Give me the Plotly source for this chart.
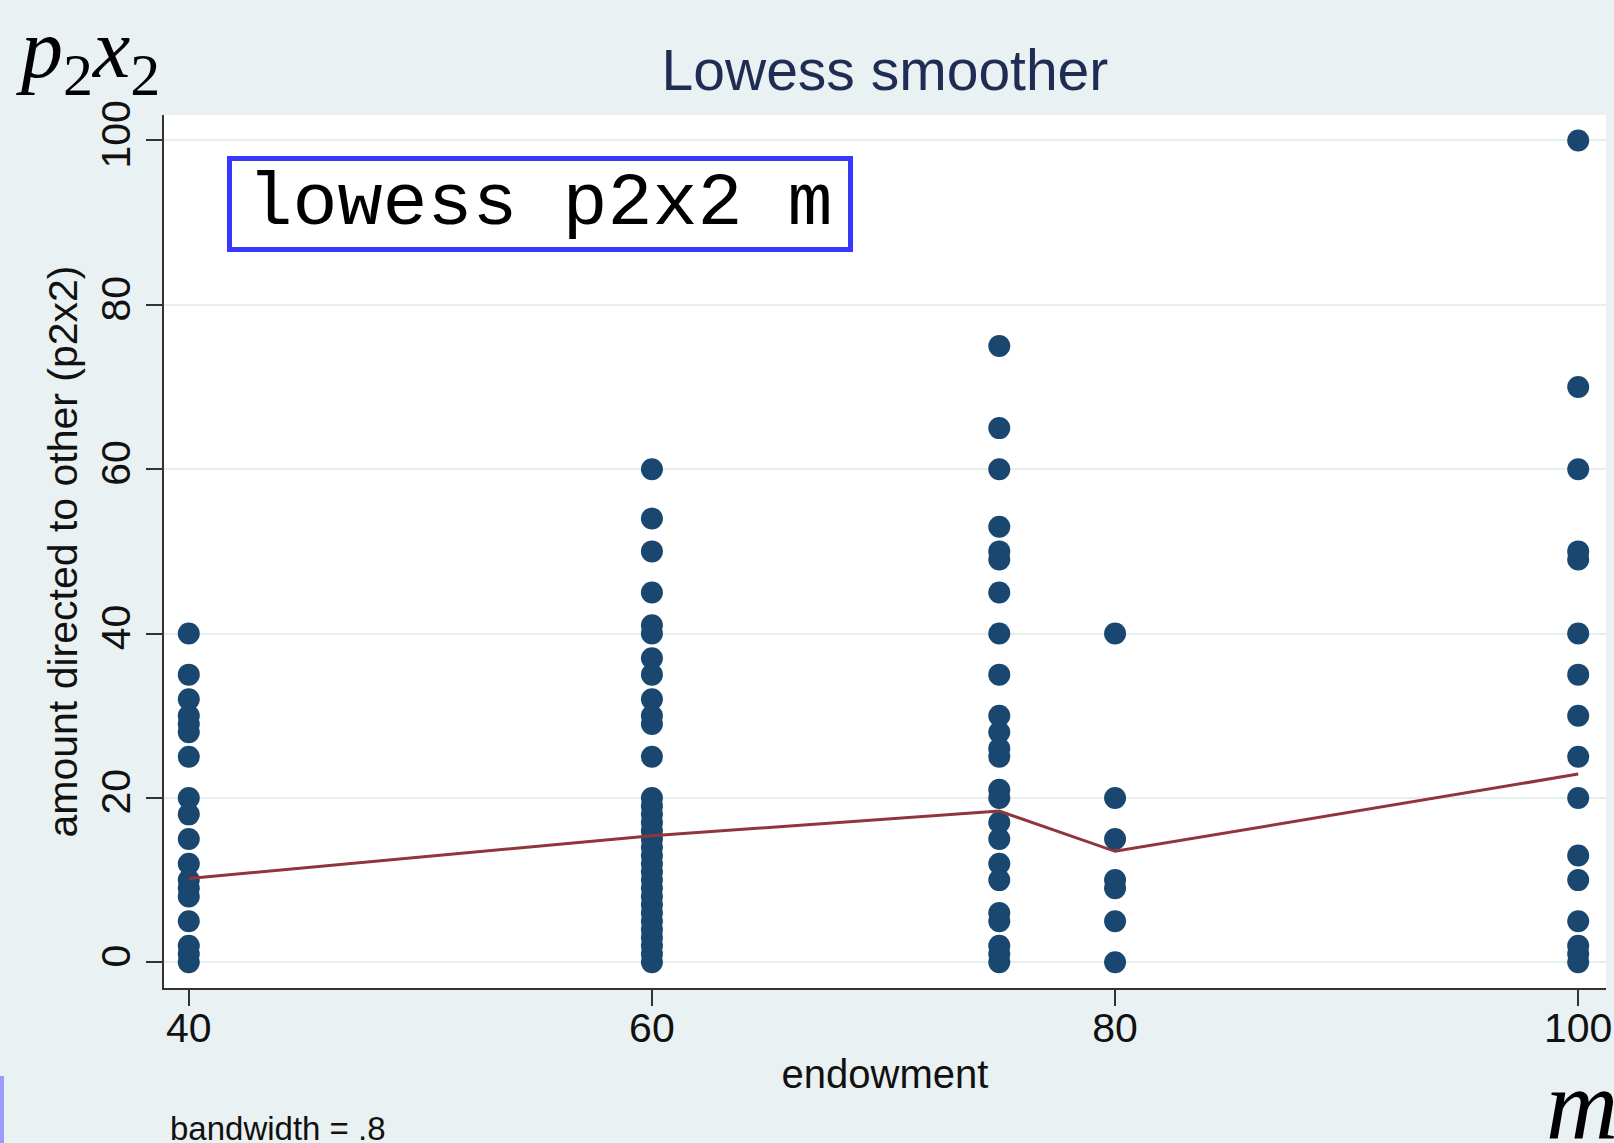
import plotly.graph_objects as go

# ---- data ----
endow_40 = [40, 35, 32, 30, 29, 28, 25, 20, 18, 15, 12, 10, 9, 8, 5, 2, 1, 0]
endow_60 = [60, 54, 50, 45, 41, 40, 37, 35, 32, 30, 29, 25, 20, 19, 18, 17, 16, 15,
            14, 13, 12, 11, 10, 9, 8, 7, 6, 5, 4, 3, 2, 1, 0]
endow_75 = [75, 65, 60, 53, 50, 49, 45, 40, 35, 30, 28, 26, 25, 21, 20, 17, 15, 12,
            10, 6, 5, 2, 1, 0]
endow_80 = [40, 20, 15, 10, 9, 5, 0]
endow_100 = [100, 70, 60, 50, 49, 40, 35, 30, 25, 20, 13, 10, 5, 2, 1, 0]

groups = {40: endow_40, 60: endow_60, 75: endow_75, 80: endow_80, 100: endow_100}

lowess_m = [40, 60, 75, 80, 100]
lowess_fit = [10.2, 15.4, 18.4, 13.5, 22.9]

x_ticks = [40, 60, 80, 100]
y_ticks = [0, 20, 40, 60, 80, 100]

title_text = "Lowess smoother"
x_title = "endowment"
y_title = "amount directed to other (p2x2)"
note_text = "bandwidth = .8"
cmd_text = "lowess p2x2 m"

xs, ys = [], []
for m, vals in groups.items():
    xs += [m] * len(vals)
    ys += vals

BG = "#e9f1f2"
NAVY = "#1a476f"
MAROON = "#90353b"
SANS = "Liberation Sans, Arial, Helvetica, sans-serif"
SERIF = "Liberation Serif, Times New Roman, serif"

fig = go.Figure()
fig.add_trace(go.Scatter(
    x=xs, y=ys, mode="markers",
    marker=dict(color=NAVY, size=22, line=dict(width=0)),
    showlegend=False, cliponaxis=False,
))
fig.add_trace(go.Scatter(
    x=lowess_m, y=lowess_fit, mode="lines",
    line=dict(color=MAROON, width=3),
    showlegend=False, cliponaxis=False,
))

fig.update_layout(
    width=1614, height=1143,
    margin=dict(l=164, r=8, t=115, b=155, autoexpand=False),
    paper_bgcolor=BG, plot_bgcolor="white",
    font=dict(family=SANS, color="#111111", size=40),
    title=dict(text=title_text, x=0.5483, xanchor="center", y=0.939, yanchor="middle",
               font=dict(family=SANS, size=57, color="#1f2d55")),
    xaxis=dict(
        range=[38.93, 101.2], tickvals=x_ticks, ticks="outside", ticklen=16,
        tickwidth=2, tickcolor="#333333", showline=True, linecolor="#333333",
        linewidth=2, showgrid=False, zeroline=False, mirror=False,
        ticklabelstandoff=-13,
        tickfont=dict(size=41, color="#111111"),
        title=dict(text=x_title, standoff=10, font=dict(size=40, color="#111111")),
    ),
    yaxis=dict(
        range=[-3.13, 103.1], tickvals=y_ticks, ticks="outside", ticklen=16,
        tickwidth=2, tickcolor="#333333", showline=True, linecolor="#333333",
        linewidth=2, showgrid=True, gridcolor="#e6eff0", gridwidth=2,
        zeroline=False, tickangle=-90,
        tickfont=dict(size=41, color="#111111"),
        title=dict(text=y_title, standoff=2, font=dict(size=41, color="#111111")),
    ),
)

# command box
fig.add_annotation(
    xref="paper", yref="paper", x=(540 - 164) / 1442, y=(988 - 204) / 873,
    xanchor="center", yanchor="middle", showarrow=False,
    text=cmd_text, font=dict(family="Courier New, Liberation Mono, monospace", size=75, color="black"),
    width=612, height=82, align="center",
    bgcolor="white", bordercolor="#3737ff", borderwidth=5, borderpad=2,
)

# math labels
fig.add_annotation(
    xref="paper", yref="paper", x=(14 - 164) / 1442, y=(988 + 0) / 873,
    xanchor="left", yanchor="top", showarrow=False,
    text="<i>p</i><sub><span style='font-size:60px'>2</span></sub><i>x</i><sub><span style='font-size:60px'>2</span></sub>",
    font=dict(family=SERIF, size=84, color="black"),
)
fig.add_annotation(
    xref="paper", yref="paper", x=(1620 - 164) / 1442, y=(988 - 1162) / 873,
    xanchor="right", yanchor="bottom", showarrow=False,
    text="<i>m</i>",
    font=dict(family=SERIF, size=100, color="black"),
)

# note
fig.add_annotation(
    xref="paper", yref="paper", x=(168 - 164) / 1442, y=(988 - 1128) / 873,
    xanchor="left", yanchor="middle", showarrow=False,
    text=note_text, font=dict(family=SANS, size=33, color="#111111"),
)

# small slide artefact bar at bottom left
fig.add_shape(type="rect", xref="paper", yref="paper",
              x0=(0 - 164) / 1442, x1=(4 - 164) / 1442,
              y0=(988 - 1076) / 873, y1=(988 - 1143) / 873,
              fillcolor="#9a9aff", line=dict(width=0), layer="above")

fig.write_html("out.html")
